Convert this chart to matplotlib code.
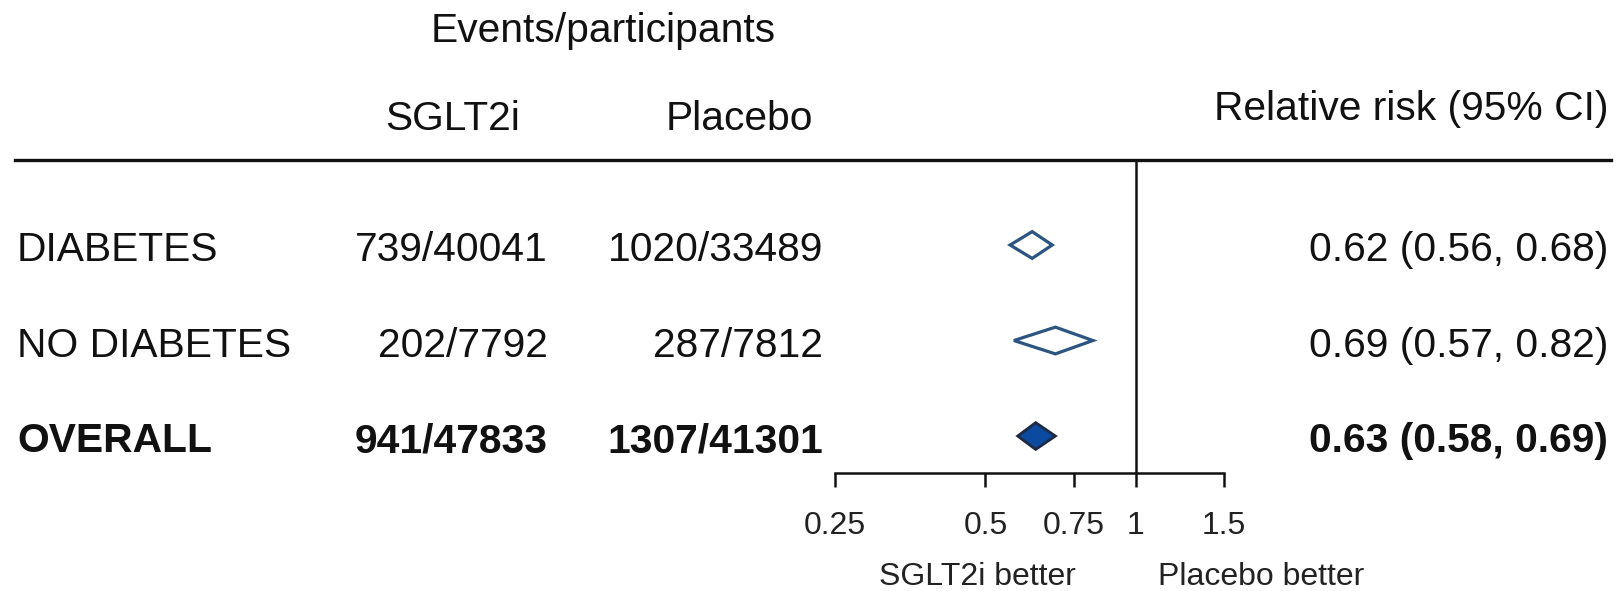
import matplotlib
matplotlib.use("Agg")
import matplotlib.pyplot as plt
from matplotlib.transforms import Affine2D, blended_transform_factory, offset_copy
from matplotlib.lines import Line2D
from matplotlib.ticker import FixedLocator, FixedFormatter, NullLocator

# ---------------- data ----------------
groups = ["DIABETES", "NO DIABETES", "OVERALL"]
sglt2i_events = [739, 202, 941]
sglt2i_total = [40041, 7792, 47833]
placebo_events = [1020, 287, 1307]
placebo_total = [33489, 7812, 41301]
rr = [0.62, 0.69, 0.63]
rr_lo = [0.56, 0.57, 0.58]
rr_hi = [0.68, 0.82, 0.69]
is_overall = [False, False, True]
tick_values = [0.25, 0.5, 0.75, 1, 1.5]
tick_labels = ["0.25", "0.5", "0.75", "1", "1.5"]

# ---------------- figure ----------------
W, H = 1616, 591
plt.rcParams["font.family"] = ["Liberation Sans", "DejaVu Sans"]
fig = plt.figure(figsize=(W / 100, H / 100), dpi=100)
fig.patch.set_facecolor("white")

# pixel -> figure transform (layout helper, y measured from top)
pix = Affine2D().scale(1 / W, -1 / H).translate(0, 1) + fig.transFigure

# forest axes: x from 0.25 (835px) to 1.5 (1224px); y from header line (160px) to axis (473px)
ax_l, ax_r, ax_t, ax_b = 835, 1224, 160, 473
ax = fig.add_axes([ax_l / W, 1 - ax_b / H, (ax_r - ax_l) / W, (ax_b - ax_t) / H])
ax.set_facecolor("none")
ax.set_xscale("log", base=2)
ax.set_xlim(0.25, 1.5)
ax.set_ylim(2.387, -0.89)
for s in ["top", "left", "right"]:
    ax.spines[s].set_visible(False)
ax.spines["bottom"].set_linewidth(1.8)
ax.spines["bottom"].set_color("#111111")
ax.xaxis.set_major_locator(FixedLocator(tick_values))
ax.xaxis.set_major_formatter(FixedFormatter(tick_labels))
ax.xaxis.set_minor_locator(NullLocator())
ax.yaxis.set_major_locator(NullLocator())
ax.tick_params(axis="x", length=10, width=1.8, color="#111111", pad=17,
               labelsize=23, labelcolor="#222222")

# reference line at 1
ax.axvline(1, color="#111111", lw=1.8, zorder=1)

# diamonds
h = 0.14
for i, (est, lo, hi, ov) in enumerate(zip(rr, rr_lo, rr_hi, is_overall)):
    xs = [lo, est, hi, est]
    ys = [i, i - h, i, i + h]
    if ov:
        ax.fill(xs, ys, facecolor="#0b4a9e", edgecolor="#1c2a44", lw=2.0, zorder=3)
    else:
        ax.fill(xs, ys, facecolor="white", edgecolor="#2c5582", lw=2.3, zorder=3)

# header line
fig.add_artist(Line2D([15 / W, 1611 / W], [1 - 160 / H, 1 - 160 / H],
                      transform=fig.transFigure, color="#111111", lw=2.4))

FS = 29.3
TXT = "#111111"
# headers
fig.text(603, 42, "Events/participants", transform=pix, ha="center", va="baseline",
         fontsize=FS, color=TXT)
fig.text(453, 130, "SGLT2i", transform=pix, ha="center", va="baseline", fontsize=FS, color=TXT)
fig.text(739, 130, "Placebo", transform=pix, ha="center", va="baseline", fontsize=FS, color=TXT)
fig.text(1608, 120, "Relative risk (95% CI)", transform=pix, ha="right", va="baseline",
         fontsize=FS, color=TXT)

# row texts: x in pixels, y in data rows, baseline shifted below row center
row_tr = offset_copy(blended_transform_factory(pix, ax.transData), fig=fig, x=0, y=-16,
                     units="dots")
for i, g in enumerate(groups):
    wt = "bold" if is_overall[i] else "normal"
    fig.text(17, i, g, transform=row_tr, ha="left", va="baseline", fontsize=FS,
             fontweight=wt, color=TXT)
    fig.text(548, i, f"{sglt2i_events[i]}/{sglt2i_total[i]}", transform=row_tr, ha="right",
             va="baseline", fontsize=FS, fontweight=wt, color=TXT)
    fig.text(823, i, f"{placebo_events[i]}/{placebo_total[i]}", transform=row_tr, ha="right",
             va="baseline", fontsize=FS, fontweight=wt, color=TXT)
    fig.text(1608, i, f"{rr[i]:.2f} ({rr_lo[i]:.2f}, {rr_hi[i]:.2f})", transform=row_tr,
             ha="right", va="baseline", fontsize=FS, fontweight=wt, color=TXT)

# direction labels
fig.text(977, 585, "SGLT2i better", transform=pix, ha="center", va="baseline",
         fontsize=23, color="#222222")
fig.text(1261, 585, "Placebo better", transform=pix, ha="center", va="baseline",
         fontsize=23, color="#222222")

fig.savefig("out.png", dpi=100, facecolor="white")
